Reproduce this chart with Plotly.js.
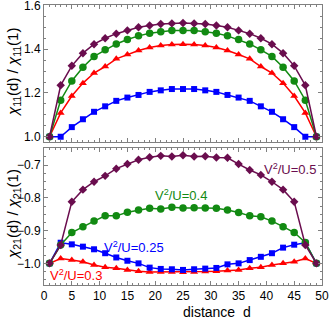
<!DOCTYPE html>
<html><head><meta charset="utf-8">
<script src="https://cdn.plot.ly/plotly-3.0.1.min.js"></script>
<style>html,body{margin:0;padding:0;background:#fff}</style>
</head><body><div id="chart" style="width:332px;height:320px"></div>
<script>
const distance = [1,3,5,7,9,11,13,15,17,19,21,23,25,27,29,31,33,35,37,39,41,43,45,47,49];

// top panel: chi11(d)/chi11(1)
const chi11_05 = [1.0,1.235,1.324,1.382,1.423,1.45,1.471,1.486,1.5,1.508,1.515,1.518,1.52,1.518,1.515,1.508,1.5,1.486,1.471,1.45,1.423,1.382,1.324,1.235,1.0];
const chi11_04 = [1.0,1.167,1.255,1.318,1.367,1.397,1.424,1.444,1.461,1.473,1.48,1.485,1.486,1.485,1.48,1.473,1.461,1.444,1.424,1.397,1.367,1.318,1.255,1.167,1.0];
const chi11_03 = [1.0,1.109,1.186,1.245,1.291,1.321,1.356,1.376,1.394,1.408,1.417,1.421,1.423,1.421,1.417,1.408,1.394,1.376,1.356,1.321,1.291,1.245,1.186,1.109,1.0];
const chi11_025 = [1.0,1.0,1.044,1.08,1.114,1.139,1.164,1.179,1.191,1.205,1.212,1.218,1.218,1.218,1.212,1.205,1.191,1.179,1.164,1.139,1.114,1.08,1.044,1.0,1.0];

// bottom panel: chi21(d)/chi21(1)
const chi21_05 = [-1.0,-0.944,-0.812,-0.775,-0.751,-0.733,-0.711,-0.697,-0.684,-0.676,-0.672,-0.674,-0.670,-0.674,-0.673,-0.677,-0.678,-0.697,-0.715,-0.730,-0.751,-0.775,-0.812,-0.944,-1.0];
const chi21_04 = [-1.0,-0.944,-0.906,-0.888,-0.871,-0.855,-0.855,-0.844,-0.837,-0.832,-0.834,-0.829,-0.831,-0.830,-0.831,-0.832,-0.837,-0.845,-0.855,-0.858,-0.871,-0.888,-0.906,-0.936,-1.0];
const chi21_025 = [-1.0,-0.937,-0.942,-0.949,-0.957,-0.969,-0.982,-0.992,-1.0,-1.013,-1.017,-1.018,-1.020,-1.018,-1.016,-1.014,-1.003,-1.0,-0.99,-0.98,-0.969,-0.952,-0.943,-0.937,-1.0];
const chi21_03 = [-1.0,-0.985,-0.99,-0.995,-1.005,-1.012,-1.015,-1.02,-1.024,-1.026,-1.026,-1.026,-1.027,-1.026,-1.025,-1.024,-1.022,-1.02,-1.015,-1.012,-1.005,-1.0,-0.995,-0.985,-1.0];

const labels = ['V<sup>2</sup>/U=0.5','V<sup>2</sup>/U=0.4','V<sup>2</sup>/U=0.25','V<sup>2</sup>/U=0.3'];
const xTicks = [0,5,10,15,20,25,30,35,40,45,50];
const yTicksTop = [1.0,1.2,1.4,1.6];
const yTicksBottom = [-1.0,-0.9,-0.8,-0.7];

const PURPLE = '#6a0d4e', GREEN = '#128a12', RED = '#ff0000', BLUE = '#0000ff';

function tr(y, color, sym, size, xa, ya) {
  return {x: distance, y: y, type: 'scatter', mode: 'lines+markers',
    line: {color: color, width: 1.5},
    marker: {color: color, symbol: sym, size: size},
    xaxis: xa, yaxis: ya, showlegend: false, hoverinfo: 'skip'};
}

const data = [
  tr(chi11_025, BLUE, 'square', 6, 'x2', 'y'),
  tr(chi11_03, RED, 'triangle-up', 7, 'x2', 'y'),
  tr(chi11_04, GREEN, 'circle', 7.5, 'x2', 'y'),
  tr(chi11_05, PURPLE, 'diamond', 6.5, 'x2', 'y'),
  tr(chi21_03, RED, 'triangle-up', 7, 'x', 'y2'),
  tr(chi21_025, BLUE, 'square', 6, 'x', 'y2'),
  tr(chi21_04, GREEN, 'circle', 7.5, 'x', 'y2'),
  tr(chi21_05, PURPLE, 'diamond', 6.5, 'x', 'y2')
];

const axCommon = {showline: true, linecolor: '#808080', linewidth: 1, mirror: 'ticks',
  ticks: 'inside', ticklen: 4, tickcolor: '#808080', showgrid: false, zeroline: false,
  ticklabeloverflow: 'allow',
  tickfont: {family: 'Liberation Sans, Arial, sans-serif', size: 12, color: '#000'}};

const layout = {
  width: 332, height: 320,
  margin: {l: 44, r: 10, t: 5, b: 35},
  paper_bgcolor: '#fff', plot_bgcolor: '#fff',
  font: {family: 'Liberation Sans, Arial, sans-serif', color: '#000'},
  xaxis: Object.assign({}, axCommon, {anchor: 'y2', range: [0, 50], tickvals: xTicks,
    minor: {ticks: 'inside', dtick: 1, ticklen: 2, tickcolor: '#808080'}}),
  xaxis2: Object.assign({}, axCommon, {anchor: 'y', range: [0, 50], tickvals: xTicks, showticklabels: false,
    minor: {ticks: 'inside', dtick: 1, ticklen: 2, tickcolor: '#808080'}}),
  yaxis: Object.assign({}, axCommon, {domain: [0.5107, 1], anchor: 'x2', range: [0.976, 1.602],
    tickvals: yTicksTop, tickformat: '.1f',
    minor: {ticks: 'inside', dtick: 0.05, tick0: 1.0, ticklen: 2, tickcolor: '#808080'}}),
  yaxis2: Object.assign({}, axCommon, {domain: [0, 0.4893], anchor: 'x', range: [-1.066, -0.648],
    tickvals: yTicksBottom, tickformat: '.1f',
    minor: {ticks: 'inside', dtick: 0.025, tick0: -1.0, ticklen: 2, tickcolor: '#808080'}}),
  annotations: [
    {text: labels[0], x: 44.2, y: -0.712, xref: 'x', yref: 'y2', showarrow: false, font: {size: 13, color: PURPLE}},
    {text: labels[1], x: 24.6, y: -0.792, xref: 'x', yref: 'y2', showarrow: false, font: {size: 13, color: GREEN}},
    {text: labels[2], x: 16.1, y: -0.95, xref: 'x', yref: 'y2', showarrow: false, font: {size: 13, color: BLUE}},
    {text: labels[3], x: 5.76, y: -1.037, xref: 'x', yref: 'y2', showarrow: false, font: {size: 13, color: RED}},
    {text: 'distance\u00a0\u00a0d', x: 0.752, y: -(312 - 285) / 280, xref: 'paper', yref: 'paper', yanchor: 'middle',
     showarrow: false, font: {size: 14, color: '#000'}},
    {text: '<i>χ</i><sub>11</sub>(d) / <i>χ</i><sub>11</sub>(1)', textangle: -90,
     x: (13 - 44) / 278, y: (285 - 73) / 280, xref: 'paper', yref: 'paper',
     xanchor: 'center', yanchor: 'middle', showarrow: false, font: {size: 15, color: '#000'}},
    {text: '<i>χ</i><sub>21</sub>(d) / <i>χ</i><sub>21</sub>(1)', textangle: -90,
     x: (13 - 44) / 278, y: (285 - 215) / 280, xref: 'paper', yref: 'paper',
     xanchor: 'center', yanchor: 'middle', showarrow: false, font: {size: 15, color: '#000'}}
  ]
};

Plotly.newPlot('chart', data, layout, {staticPlot: true, displayModeBar: false});
</script></body></html>
